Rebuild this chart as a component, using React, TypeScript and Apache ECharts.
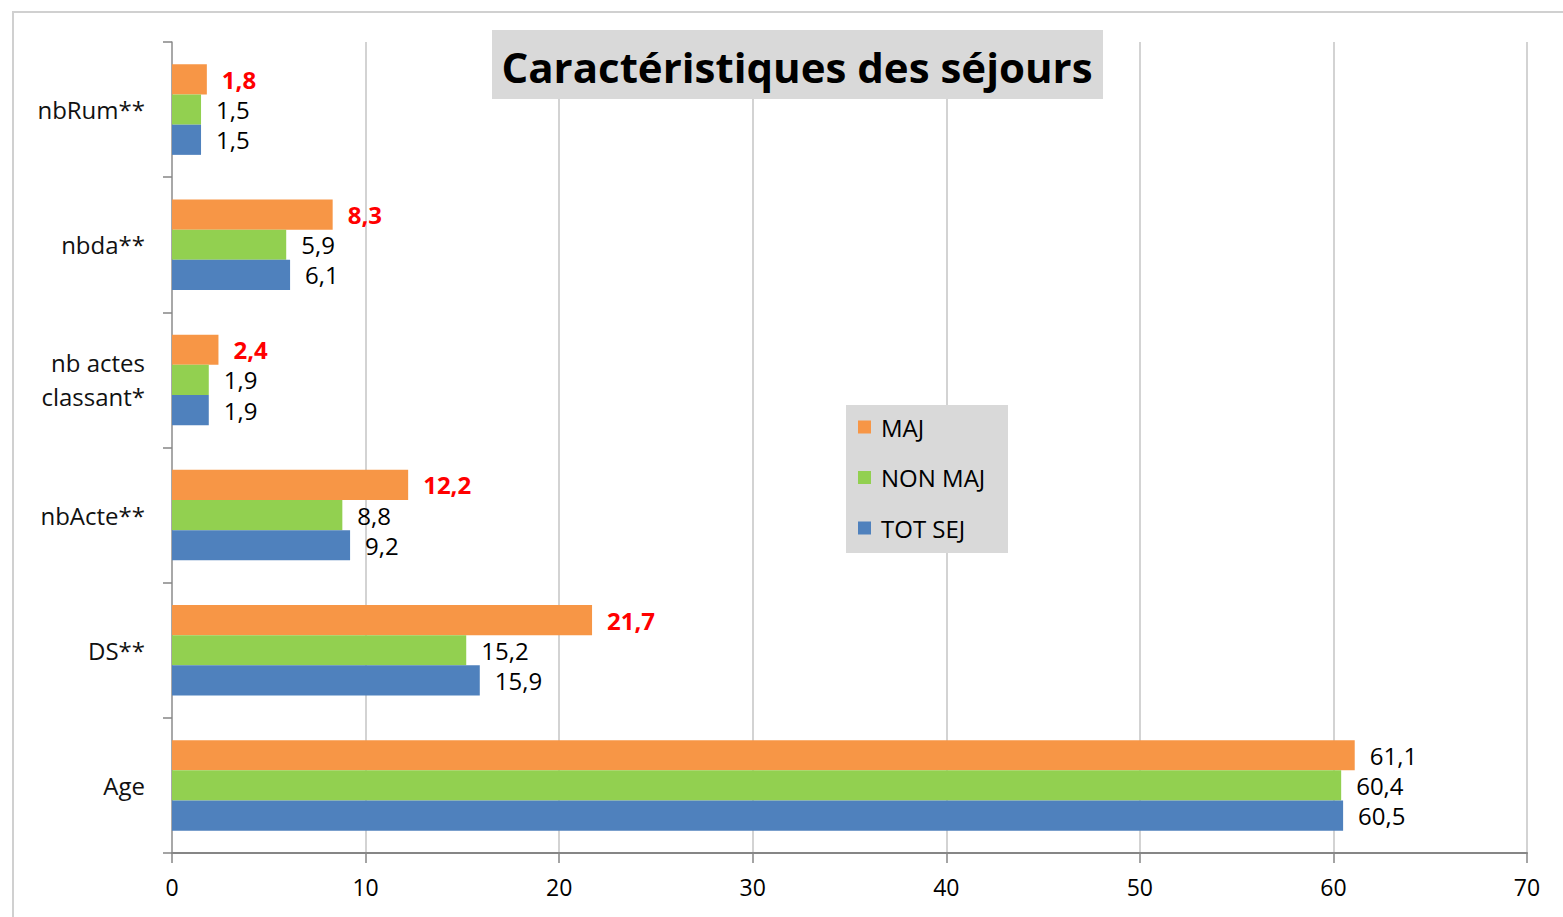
import React, { useEffect, useRef } from "react";
import * as echarts from "echarts";

const categories = ["Age", "DS**", "nbActe**", "nb actes\nclassant*", "nbda**", "nbRum**"];
const totSej = [60.5, 15.9, 9.2, 1.9, 6.1, 1.5];
const nonMaj = [60.4, 15.2, 8.8, 1.9, 5.9, 1.5];
const maj = [61.1, 21.7, 12.2, 2.4, 8.3, 1.8];
// MAJ labels shown in red (significant) — all but Age
const majHighlighted = [false, true, true, true, true, true];
const xTicks = [0, 10, 20, 30, 40, 50, 60, 70];
const titleText = "Caractéristiques des séjours";

const FONT = "'Open Sans', Lato, sans-serif";
const fmt = (p: any) => String(p.value).replace(".", ",");

export default function App() {
  const ref = useRef<HTMLDivElement>(null);
  useEffect(() => {
    if (!ref.current) return;
    const chart = echarts.init(ref.current, undefined, { renderer: "svg" });
    const labelBase = {
      show: true,
      position: "right",
      distance: 15,
      formatter: fmt,
      fontFamily: FONT,
      fontSize: 24,
      color: "#000",
    };
    const majData = maj.map((v, i) =>
      majHighlighted[i]
        ? { value: v, label: { color: "#ff0000", fontWeight: "bold" } }
        : { value: v, label: { color: "#000", fontWeight: "normal" } }
    );
    chart.setOption({
      animation: false,
      backgroundColor: "#ffffff",
      textStyle: { fontFamily: FONT },
      grid: { left: 172, right: 36, top: 42, bottom: 64, containLabel: false },
      legend: {
        orient: "vertical",
        left: 858,
        top: 405,
        padding: [10, 0, 10, 0],
        itemGap: 26.5,
        itemWidth: 13,
        itemHeight: 13,
        icon: "rect",
        data: ["MAJ", "NON MAJ", "TOT SEJ"],
        textStyle: { fontFamily: FONT, fontSize: 24, lineHeight: 22, color: "#000", padding: [0, 0, 0, 5] },
        z: 10,
      },
      xAxis: {
        type: "value",
        min: xTicks[0],
        max: xTicks[xTicks.length - 1],
        interval: 10,
        axisLine: { show: true, onZero: false, lineStyle: { color: "#868686", width: 2 } },
        axisTick: { show: true, length: 10, lineStyle: { color: "#868686", width: 1.5 } },
        axisLabel: { fontFamily: FONT, fontSize: 23, color: "#000", margin: 22 },
        splitLine: { show: true, lineStyle: { color: "#c4c4c4", width: 1.5 } },
      },
      yAxis: {
        type: "category",
        data: categories,
        axisLine: { show: true, lineStyle: { color: "#9a9a9a", width: 1.5 } },
        axisTick: { show: true, length: 9, lineStyle: { color: "#868686", width: 1.5 } },
        axisLabel: { fontFamily: FONT, fontSize: 24, color: "#111", margin: 27, lineHeight: 34, align: "right" },
      },
      series: [
        {
          name: "MAJ",
          type: "bar",
          data: majData,
          barGap: "0%",
          barCategoryGap: "33%",
          itemStyle: { color: "#f79646" },
          label: { ...labelBase },
        },
        {
          name: "NON MAJ",
          type: "bar",
          data: nonMaj,
          barGap: "0%",
          barCategoryGap: "33%",
          itemStyle: { color: "#92d050" },
          label: { ...labelBase },
        },
        {
          name: "TOT SEJ",
          type: "bar",
          data: totSej,
          barGap: "0%",
          barCategoryGap: "33%",
          itemStyle: { color: "#4f81bd" },
          label: { ...labelBase },
        },
      ],
      graphic: [
        {
          type: "rect",
          z: -10,
          silent: true,
          shape: { x: 13, y: 12, width: 1700, height: 1100 },
          style: { fill: "none", stroke: "#d0d0d0", lineWidth: 2 },
        },
        {
          type: "rect",
          z: 5,
          silent: true,
          shape: { x: 492, y: 30, width: 611, height: 69 },
          style: { fill: "#d9d9d9" },
        },
        {
          type: "text",
          z: 6,
          silent: true,
          x: 797,
          y: 66,
          style: {
            text: titleText,
            fontFamily: FONT,
            fontSize: 42,
            fontWeight: "bold",
            fill: "#000",
            align: "center",
            verticalAlign: "middle",
          },
        },
        {
          type: "rect",
          z: 5,
          silent: true,
          shape: { x: 846, y: 405, width: 162, height: 148 },
          style: { fill: "#d9d9d9" },
        },
      ],
    });
    return () => chart.dispose();
  }, []);
  return (
    <div
      ref={ref}
      style={{ position: "absolute", left: 0, top: 0, width: 1563, height: 917 }}
    />
  );
}
